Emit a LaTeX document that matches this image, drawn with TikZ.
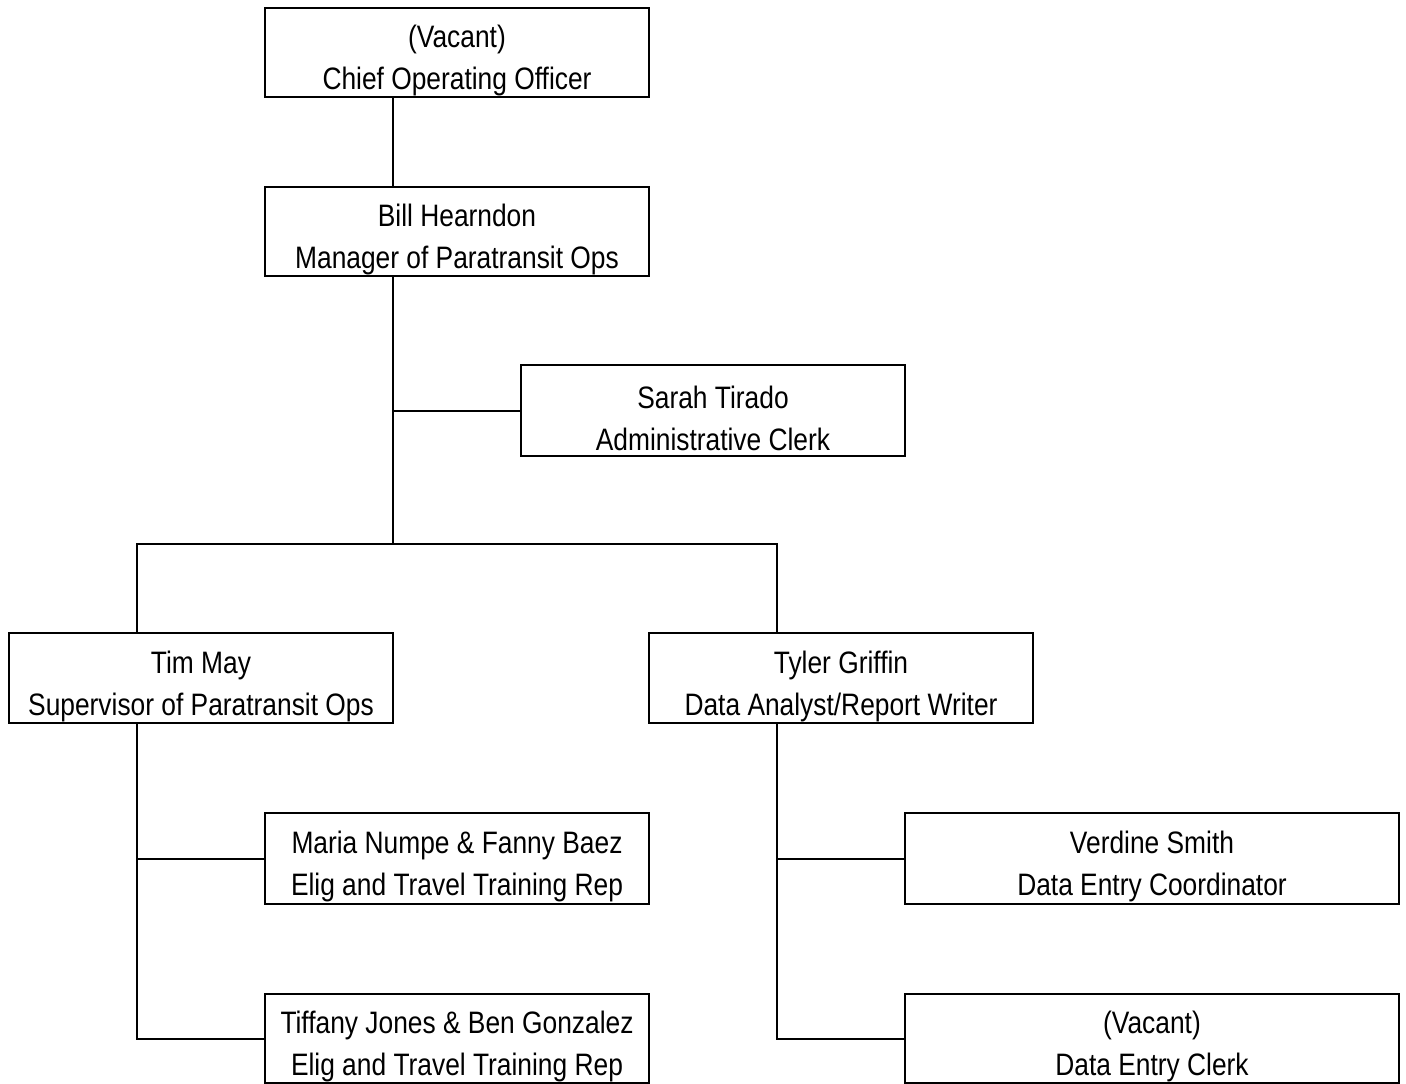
\documentclass[tikz,border=0pt]{standalone}
\usepackage{fontspec}
\setmainfont{Liberation Sans}[FakeStretch=0.85]
\begin{document}
\begin{tikzpicture}[x=1pt,y=-1pt,
  box/.style={draw, line width=2pt, rectangle, inner sep=0pt},
  txt/.style={align=center, inner sep=0pt, font=\fontsize{31}{42}\selectfont, text=black},
  conn/.style={line width=2pt}]
\useasboundingbox (0,0) rectangle (1406,1084);
\node[box, minimum width=384pt, minimum height=89pt] (coo) at (457,52.5) {};
\node[box, minimum width=384pt, minimum height=89pt] (bill) at (457,231.5) {};
\node[box, minimum width=384pt, minimum height=91pt] (sarah) at (713,410.5) {};
\node[box, minimum width=384pt, minimum height=90pt] (tim) at (201,678) {};
\node[box, minimum width=384pt, minimum height=90pt] (tyler) at (841,678) {};
\node[box, minimum width=384pt, minimum height=91pt] (maria) at (457,858.5) {};
\node[box, minimum width=384pt, minimum height=89pt] (tiffany) at (457,1038.5) {};
\node[box, minimum width=494pt, minimum height=91pt] (verdine) at (1152,858.5) {};
\node[box, minimum width=494pt, minimum height=89pt] (vclerk) at (1152,1038.5) {};
\node[txt] (cooT) at ([yshift=-8pt]coo.center) {(Vacant)\\Chief Operating Officer};
\node[txt] (billT) at ([yshift=-8pt]bill.center) {Bill Hearndon\\Manager of Paratransit Ops};
\node[txt] (sarahT) at ([yshift=-8pt]sarah.center) {Sarah Tirado\\Administrative Clerk};
\node[txt] (timT) at ([yshift=-8pt]tim.center) {Tim May\\Supervisor of Paratransit Ops};
\node[txt] (tylerT) at ([yshift=-8pt]tyler.center) {Tyler Griffin\\Data Analyst/Report Writer};
\node[txt] (mariaT) at ([yshift=-8pt]maria.center) {Maria Numpe \& Fanny Baez\\Elig and Travel Training Rep};
\node[txt] (tiffanyT) at ([yshift=-8pt]tiffany.center) {Tiffany Jones \& Ben Gonzalez\\Elig and Travel Training Rep};
\node[txt] (verdineT) at ([yshift=-8pt]verdine.center) {Verdine Smith\\Data Entry Coordinator};
\node[txt] (vclerkT) at ([yshift=-8pt]vclerk.center) {(Vacant)\\Data Entry Clerk};
\coordinate (trunk) at (393,0);
\coordinate (j1) at (393,544);
\coordinate (tb) at (137,0);
\coordinate (yb) at (777,0);
\draw[conn] (coo.south -| trunk) -- (bill.north -| trunk);
\draw[conn] (bill.south -| trunk) -- (j1);
\draw[conn] (sarah.west) -- (sarah.west -| trunk);
\draw[conn] (tim.north -| tb) -- (tb |- j1) -- (yb |- j1) -- (tyler.north -| yb);
\draw[conn] (tim.south -| tb) |- (tiffany.west);
\draw[conn] (maria.west) -- (maria.west -| tb);
\draw[conn] (tyler.south -| yb) |- (vclerk.west);
\draw[conn] (verdine.west) -- (verdine.west -| yb);
\end{tikzpicture}
\end{document}
